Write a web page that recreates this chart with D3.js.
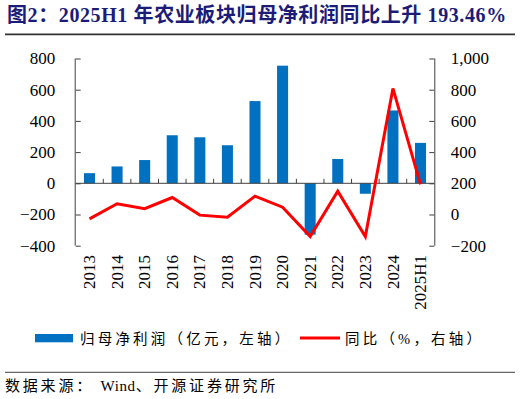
<!DOCTYPE html>
<html>
<head>
<meta charset="utf-8">
<script src="https://cdn.jsdelivr.net/npm/d3@7"></script>
<style>
  html, body { margin: 0; padding: 0; background: #fff; }
  svg { display: block; }
</style>
</head>
<body>
<svg id="chart" width="520" height="399"></svg>
<script>
const categories = ["2013","2014","2015","2016","2017","2018","2019","2020","2021","2022","2023","2024","2025H1"];
const profit = [65, 108, 149, 308, 295, 244, 527, 754, -329, 156, -67, 467, 259];
const yoy = [-28, 69, 37, 109, -4, -17, 118, 47, -141, 150, -141, 808, 193.46];
const leftTicks = [-400, -200, 0, 200, 400, 600, 800];
const rightTicks = [-200, 0, 200, 400, 600, 800, 1000];

const titleText = "图2：2025H1 年农业板块归母净利润同比上升 193.46%";
const legendBar = "归母净利润（亿元，左轴）";
const legendLine = "同比（%，右轴）";
const sourceA = "数据来源： ";
const sourceB = "Wind";
const sourceC = "、开源证券研究所";

const svg = d3.select("#chart");
const numFont = "'Liberation Serif', 'Times New Roman', serif";
const cjkFont = "'Liberation Serif', 'Noto Sans CJK SC', serif";
const axisColor = "#404040";

const x0 = 75.7, x1 = 434.3, yTop = 58.5, yBot = 245.7;

const x = d3.scaleBand().domain(categories).range([x0, x1]).paddingInner(0.6).paddingOuter(0.3);
const xStep = d3.scaleBand().domain(categories).range([x0, x1]).padding(0);
const yL = d3.scaleLinear().domain([-400, 800]).range([yBot, yTop]);
const yR = d3.scaleLinear().domain([-200, 1000]).range([yBot, yTop]);

// Title
svg.append("text").attr("x", 7).attr("y", 22)
  .attr("font-family", cjkFont).attr("font-weight", "bold").attr("font-size", 20)
  .attr("letter-spacing", 0.6)
  .attr("fill", "#1C1C78").text(titleText);
svg.append("line").attr("x1", 5).attr("x2", 515).attr("y1", 34.4).attr("y2", 34.4)
  .attr("stroke", "#333").attr("stroke-width", 1.8);

// Bars
svg.append("g").selectAll("rect").data(categories).join("rect")
  .attr("x", d => x(d))
  .attr("width", x.bandwidth())
  .attr("y", (d, i) => Math.min(yL(profit[i]), yL(0)))
  .attr("height", (d, i) => Math.abs(yL(profit[i]) - yL(0)))
  .attr("fill", "#0070C0");

// Left axis
const gL = svg.append("g").attr("transform", `translate(${x0},0)`)
  .call(d3.axisLeft(yL).tickValues(leftTicks).tickSize(-5).tickPadding(25).tickFormat(d3.format("d")));
gL.select(".domain").attr("stroke", axisColor).attr("d", `M-0.5,${yTop}V${yBot}`);
gL.selectAll(".tick line").attr("stroke", axisColor);
gL.selectAll(".tick text").attr("font-family", numFont).attr("font-size", 17).attr("fill", "#000")
  .attr("x", -20.5);

// Right axis
const gR = svg.append("g").attr("transform", `translate(${x1},0)`)
  .call(d3.axisRight(yR).tickValues(rightTicks).tickSize(-5).tickPadding(17).tickFormat(d3.format(",")));
gR.select(".domain").attr("stroke", axisColor).attr("d", `M0.5,${yTop}V${yBot}`);
gR.selectAll(".tick line").attr("stroke", axisColor);
gR.selectAll(".tick text").attr("font-family", numFont).attr("font-size", 17).attr("fill", "#000")
  .attr("x", 16.5);

// Zero axis with ticks at band boundaries
const gX = svg.append("g").attr("transform", `translate(0,${yL(0)})`);
gX.append("line").attr("x1", x0).attr("x2", x1).attr("y1", 0).attr("y2", 0)
  .attr("stroke", axisColor).attr("stroke-width", 1);
gX.selectAll("line.tk").data(categories.slice(1)).join("line").attr("class", "tk")
  .attr("x1", d => xStep(d)).attr("x2", d => xStep(d))
  .attr("y1", 0).attr("y2", -4.5).attr("stroke", axisColor);

// X labels
svg.append("g").selectAll("text").data(categories).join("text")
  .attr("transform", d => `translate(${x(d) + x.bandwidth() / 2},255) rotate(-90)`)
  .attr("text-anchor", "end").attr("dy", "0.33em")
  .attr("font-family", numFont).attr("font-size", 17).attr("fill", "#000")
  .text(d => d);

// Line
const line = d3.line()
  .x((d, i) => x(categories[i]) + x.bandwidth() / 2)
  .y(d => yR(d));
svg.append("path").datum(yoy).attr("d", line)
  .attr("fill", "none").attr("stroke", "#FF0000").attr("stroke-width", 3)
  .attr("stroke-linejoin", "miter");

// Legend
svg.append("rect").attr("x", 35).attr("y", 334).attr("width", 38).attr("height", 8.3).attr("fill", "#0070C0");
svg.append("text").attr("x", 80).attr("y", 343.5)
  .attr("font-family", cjkFont).attr("font-size", 14.5).attr("letter-spacing", 3.2)
  .attr("fill", "#000").text(legendBar);
svg.append("line").attr("x1", 300).attr("x2", 340).attr("y1", 338).attr("y2", 338)
  .attr("stroke", "#FF0000").attr("stroke-width", 3);
svg.append("text").attr("x", 345).attr("y", 343.5)
  .attr("font-family", cjkFont).attr("font-size", 14.5).attr("letter-spacing", 3.2)
  .attr("fill", "#000").text(legendLine);

// Source
svg.append("line").attr("x1", 5).attr("x2", 515).attr("y1", 372.4).attr("y2", 372.4)
  .attr("stroke", "#666").attr("stroke-width", 1.2);
const src = svg.append("text").attr("x", 5).attr("y", 391)
  .attr("font-family", cjkFont).attr("font-size", 15).attr("fill", "#000");
src.append("tspan").attr("letter-spacing", 2.8).text(sourceA);
src.append("tspan").attr("letter-spacing", 0.6).text(sourceB);
src.append("tspan").attr("letter-spacing", 2.8).text(sourceC);
</script>
</body>
</html>
